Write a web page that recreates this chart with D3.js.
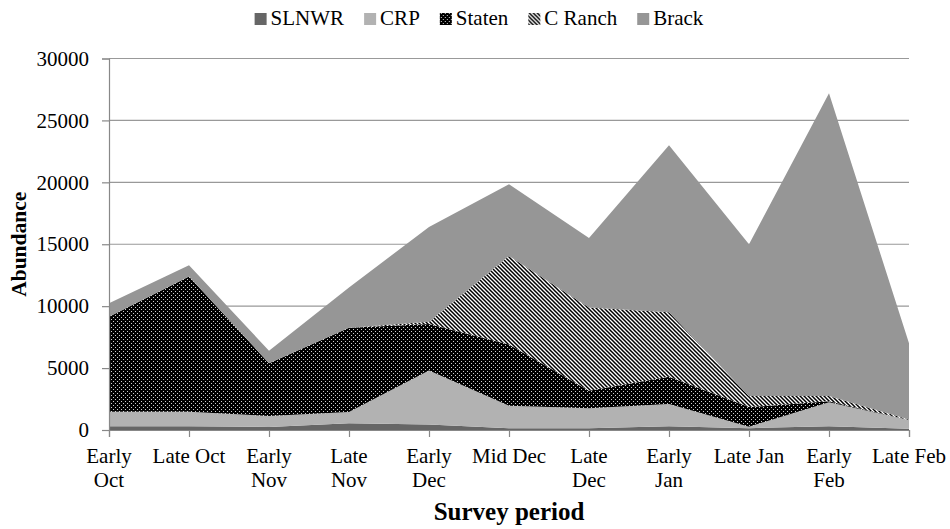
<!DOCTYPE html>
<html>
<head>
<meta charset="utf-8">
<script src="https://cdn.jsdelivr.net/npm/d3@7"></script>
<style>
  body { margin: 0; background: #fff; }
  svg text { font-family: "Liberation Serif", "Times New Roman", serif; }
</style>
</head>
<body>
<svg width="950" height="529"></svg>
<script>
(function () {

  // survey periods
  const categories = ["Early Oct", "Late Oct", "Early Nov", "Late Nov", "Early Dec", "Mid Dec",
    "Late Dec", "Early Jan", "Late Jan", "Early Feb", "Late Feb"];
  // how the tick labels wrap in the original
  const tickLabels = [["Early", "Oct"], ["Late Oct"], ["Early", "Nov"], ["Late", "Nov"], ["Early", "Dec"],
    ["Mid Dec"], ["Late", "Dec"], ["Early", "Jan"], ["Late Jan"], ["Early", "Feb"], ["Late Feb"]];

  // abundance per site (stacked in this order)
  const slnwr  = [300, 300, 250, 550, 450, 150, 150, 300, 150, 300, 100];
  const crp    = [1180, 1180, 880, 900, 4350, 1800, 1600, 1800, 120, 1950, 700];
  const staten = [7670, 10920, 4270, 6800, 3750, 4950, 1420, 2200, 1580, 80, 0];
  const cRanch = [0, 0, 0, 0, 200, 7150, 6730, 5200, 900, 420, 40];
  const brack  = [1080, 900, 1000, 3250, 7650, 5800, 5600, 13500, 12250, 24450, 6160];

  const seriesNames = ["SLNWR", "CRP", "Staten", "C Ranch", "Brack"];
  const yTicks = [0, 5000, 10000, 15000, 20000, 25000, 30000];

  const svg = d3.select("svg");
  const left = 109, right = 909, top = 58.5, bottom = 430;
  const serif = '"Liberation Serif", "Times New Roman", serif';

  const rows = categories.map((c, i) => ({
    period: c,
    "SLNWR": slnwr[i],
    "CRP": crp[i],
    "Staten": staten[i],
    "C Ranch": cRanch[i],
    "Brack": brack[i]
  }));

  const x = d3.scalePoint().domain(categories).range([left, right]).padding(0);
  const y = d3.scaleLinear().domain([0, 30000]).range([bottom, top]);

  // fill patterns
  const defs = svg.append("defs");
  const dots = defs.append("pattern")
    .attr("id", "dots").attr("patternUnits", "userSpaceOnUse")
    .attr("width", 4).attr("height", 4);
  dots.append("rect").attr("width", 4).attr("height", 4).attr("fill", "#000");
  dots.append("rect").attr("x", 1).attr("y", 1).attr("width", 1).attr("height", 1).attr("fill", "#d0d0d0");
  dots.append("rect").attr("x", 3).attr("y", 3).attr("width", 1).attr("height", 1).attr("fill", "#d0d0d0");

  const hatch = defs.append("pattern")
    .attr("id", "hatch").attr("patternUnits", "userSpaceOnUse")
    .attr("width", 4).attr("height", 4);
  hatch.append("rect").attr("width", 4).attr("height", 4).attr("fill", "#fff");
  hatch.append("path")
    .attr("d", "M-1,-1L5,5M3,-1L5,1M-1,3L1,5")
    .attr("stroke", "#000").attr("stroke-width", 1.5);

  const fills = {
    "SLNWR": "#666666",
    "CRP": "#b2b2b2",
    "Staten": "url(#dots)",
    "C Ranch": "url(#hatch)",
    "Brack": "#969696"
  };

  // gridlines
  svg.append("g")
    .selectAll("line")
    .data(yTicks.filter(d => d > 0))
    .enter().append("line")
    .attr("x1", left).attr("x2", right)
    .attr("y1", d => y(d)).attr("y2", d => y(d))
    .attr("stroke", "#999").attr("stroke-width", 1.2);

  // stacked areas
  const stack = d3.stack().keys(seriesNames);
  const area = d3.area()
    .x(d => x(d.data.period))
    .y0(d => y(d[0]))
    .y1(d => y(d[1]));

  svg.append("g")
    .selectAll("path")
    .data(stack(rows))
    .enter().append("path")
    .attr("d", area)
    .attr("fill", d => fills[d.key]);

  // y axis
  const yAxis = svg.append("g")
    .attr("transform", `translate(${left},0)`)
    .call(d3.axisLeft(y).tickValues(yTicks).tickFormat(d3.format("d")).tickSize(7).tickPadding(13));
  yAxis.attr("font-family", null).attr("font-size", null);
  yAxis.select(".domain").attr("stroke", "#888").attr("stroke-width", 1.2);
  yAxis.selectAll(".tick line").attr("stroke", "#888").attr("stroke-width", 1.2);
  yAxis.selectAll(".tick text")
    .style("font-size", "21px").attr("fill", "#000");

  // x axis
  const xAxis = svg.append("g")
    .attr("transform", `translate(0,${bottom})`)
    .call(d3.axisBottom(x).tickSize(7).tickFormat(""));
  xAxis.select(".domain").attr("stroke", "#888").attr("stroke-width", 1.2);
  xAxis.selectAll(".tick line").attr("stroke", "#888").attr("stroke-width", 1.2);

  const xLabels = svg.append("g")
    .attr("text-anchor", "middle");
  categories.forEach((c, i) => {
    const t = xLabels.append("text")
      .style("font-size", "21px")
      .attr("x", x(c)).attr("y", 462.5);
    tickLabels[i].forEach((line, j) => {
      t.append("tspan").attr("x", x(c)).attr("dy", j === 0 ? 0 : 24.3).text(line);
    });
  });

  // axis titles
  svg.append("text")
    .attr("x", (left + right) / 2).attr("y", 520)
    .attr("text-anchor", "middle")
    .style("font-weight", "bold").style("font-size", "25px")
    .text("Survey period");

  svg.append("text")
    .attr("transform", `translate(26,${(top + bottom) / 2}) rotate(-90)`)
    .attr("text-anchor", "middle")
    .style("font-weight", "bold").style("font-size", "21.5px")
    .text("Abundance");

  // legend
  const legend = svg.append("g");
  let lx = 0;
  seriesNames.forEach(name => {
    const g = legend.append("g").attr("transform", `translate(${lx},0)`);
    g.append("rect")
      .attr("x", 0).attr("y", 13).attr("width", 12).attr("height", 12)
      .attr("fill", fills[name]);
    const t = g.append("text").attr("x", 16).attr("y", 25)
      .style("font-size", "21px").text(name);
    lx += 16 + t.node().getComputedTextLength() + 20;
  });
  const legendWidth = lx - 20;
  legend.attr("transform", `translate(${479 - legendWidth / 2},0)`);

  svg.selectAll("text").style("font-family", serif);

}());
</script>
</body>
</html>
